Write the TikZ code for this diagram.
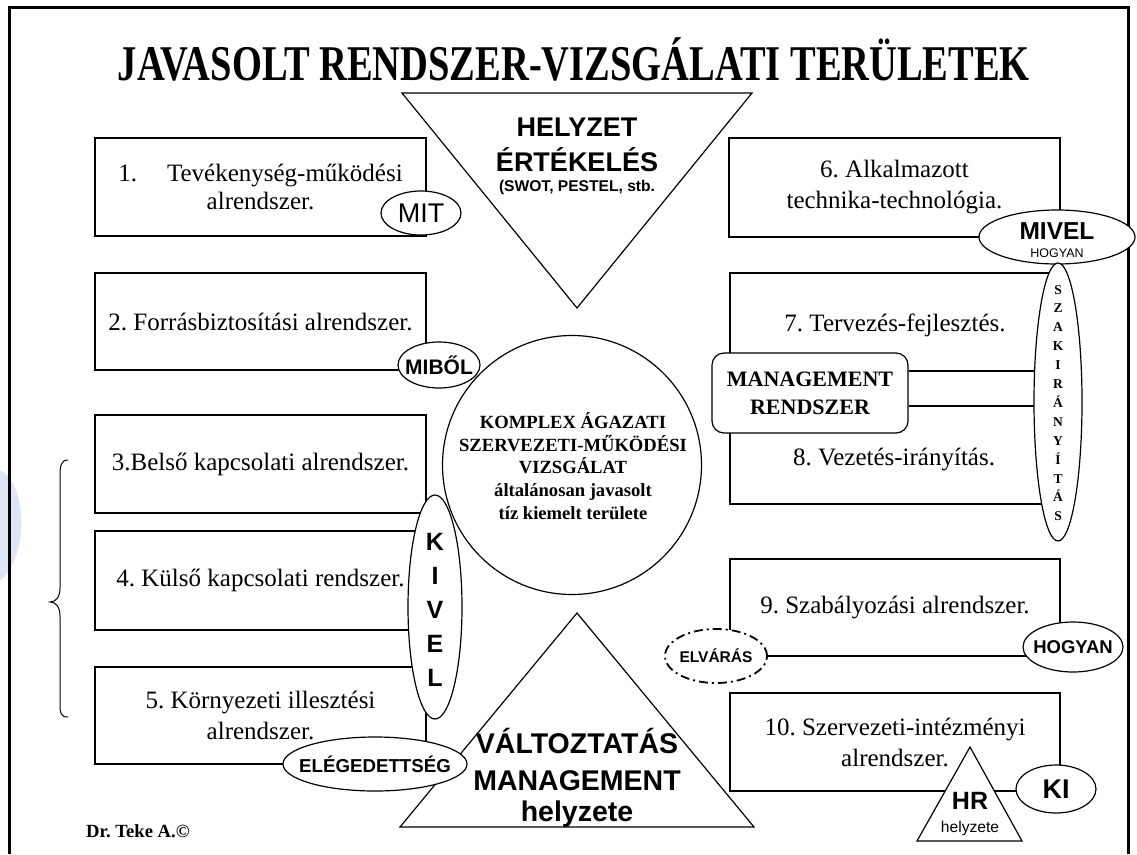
\documentclass[tikz,border=0pt]{standalone}
\usepackage{fontspec}
\usepackage{graphicx}
\setmainfont{Liberation Serif}
\newfontfamily\timesf{Liberation Serif}
\newfontfamily\arial{Liberation Sans}
\usetikzlibrary{shapes.geometric}
\newcommand\fsz[2]{\fontsize{#1}{#2}\selectfont}
\definecolor{wmark}{rgb}{0.87,0.90,0.96}
\frenchspacing
\begin{document}
\begin{tikzpicture}[x=1pt,y=-1pt,
  lw/.style={line width=1.2pt},
  boxn/.style={draw, lw, fill=white, rectangle, inner sep=0pt, align=center, font=\fsz{25}{31}},
  ell/.style={draw, lw, fill=white, ellipse, inner sep=0pt},
  lab/.style={inner sep=0pt, align=center},
  tri/.style={draw, lw, fill=white, line join=miter},
]
\useasboundingbox (0,0) rectangle (1137,854);
% faint watermark
\fill[wmark] (0,470) .. controls (20,480) and (26,520) .. (18,550) .. controls (12,570) and (4,578) .. (0,580) -- cycle;
% frame
\draw[line width=3pt] (9,854) -- (9,7) -- (1128,7) -- (1128,854);
% title
\node[lab, anchor=base] (title) at (574,80) {\resizebox{912pt}{\height}{\timesf\bfseries\fsz{50}{50}JAVASOLT RENDSZER-VIZSGÁLATI TERÜLETEK}};

% left boxes
\node[boxn, minimum width=331pt, minimum height=98pt, font=\fsz{25}{28}] (b1) at (260.5,187) {1.\hspace{1.2em}Tevékenység-működési\\alrendszer.};
\node[boxn, minimum width=331pt, minimum height=97pt] (b2) at (260.5,321.5) {2. Forrásbiztosítási alrendszer.};
\node[boxn, minimum width=331pt, minimum height=98pt] (b3) at (260.5,464) {3.Belső kapcsolati alrendszer.};
\node[boxn, minimum width=331pt, minimum height=99pt] (b4) at (260.5,580.5) {4. Külső kapcsolati rendszer.};
\node[boxn, minimum width=331pt, minimum height=97pt] (b5) at (260.5,715.5) {5. Környezeti illesztési\\alrendszer.};

% right boxes
\node[boxn, minimum width=331pt, minimum height=99pt] (b6) at (894.5,187.5) {6. Alkalmazott\\technika-technológia.};
\node[boxn, minimum width=330pt, minimum height=231pt] (b7) at (895,388.5) {};
\node[lab, font=\fsz{25}{31}] (t7) at (895,325) {7. Tervezés-fejlesztés.};
\node[lab, font=\fsz{25}{31}] (t8) at (894,459) {8. Vezetés-irányítás.};
\node[boxn, minimum width=330pt, minimum height=97pt] (b9) at (895,607.5) {9. Szabályozási alrendszer.};
\node[boxn, minimum width=330pt, minimum height=98pt] (b10) at (895,742) {10. Szervezeti-intézményi\\alrendszer.};

% management box and lines
\node[draw, lw, fill=white, rounded corners=12pt, minimum width=196pt, minimum height=80pt, inner sep=0pt, align=center, font=\bfseries\fsz{22}{28}] (mgmt) at (810,393) {MANAGEMENT\\RENDSZER};
\coordinate (szc) at (1058,402);
\coordinate (l1) at (0,371);
\coordinate (l2) at (0,406);
\draw[lw] (mgmt.east |- l1) -- (szc |- l1);
\draw[lw] (mgmt.east |- l2) -- (szc |- l2);

% top triangle
\draw[tri] (402,93) -- (752,93) -- (577,308) -- cycle;
\node[lab, anchor=base, font=\arial\bfseries\fsz{27}{27}] (helyzet) at (577,136) {HELYZET};
\node[lab, anchor=base, font=\arial\bfseries\fsz{27}{27}] (ertek) at (577,171) {ÉRTÉKELÉS};
\node[lab, anchor=base, font=\arial\bfseries\fsz{15.6}{16}] (swot) at (577,191) {(SWOT, PESTEL, stb.};

% central circle
\node[draw, lw, circle, fill=white, minimum size=259pt, inner sep=0pt] (kor) at (572,465) {};
\node[lab, font=\bfseries\fsz{18.6}{22.75}] (kortext) at (573,466) {KOMPLEX ÁGAZATI\\SZERVEZETI-MŰKÖDÉSI\\VIZSGÁLAT\\általánosan javasolt\\tíz kiemelt területe};

% bottom triangle
\draw[tri] (577,613) -- (754,827) -- (400,827) -- cycle;
\node[lab, anchor=base, font=\arial\bfseries\fsz{28.5}{30}] (valt) at (577,753) {VÁLTOZTATÁS};
\node[lab, anchor=base, font=\arial\bfseries\fsz{28.5}{30}] (mgm2) at (577,790) {MANAGEMENT};
\node[lab, anchor=base, font=\arial\bfseries\fsz{28.5}{30}] (hely) at (577,821) {helyzete};

% ellipses left
\node[ell, minimum width=80pt, minimum height=44pt] (mit) at (421,213) {};
\node[lab, font=\arial\fsz{27}{27}] at (mit) {MIT};
\node[ell, minimum width=82pt, minimum height=46pt] (mibol) at (439,365) {};
\node[lab, font=\arial\bfseries\fsz{21}{21}] at (mibol) {MIBŐL};
\node[ell, minimum width=54pt, minimum height=224pt] (kivel) at (435,607) {};
\node[lab, font=\arial\bfseries\fsz{25}{34}] at (435,610) {K\\I\\V\\E\\L};
\node[ell, minimum width=184pt, minimum height=54pt] (eleg) at (375,764) {};
\node[lab, font=\arial\bfseries\fsz{18.7}{19}] at (eleg) {ELÉGEDETTSÉG};

% ellipses right
\node[ell, minimum width=156pt, minimum height=54pt] (mivel) at (1057,237) {};
\node[lab, anchor=base, font=\arial\bfseries\fsz{24.5}{25}] at (1057,239) {MIVEL};
\node[lab, anchor=base, font=\arial\fsz{12.5}{13}] at (1057,257) {HOGYAN};
\node[ell, minimum width=48pt, minimum height=278pt] (szak) at (szc) {};
\node[lab, font=\bfseries\fsz{13.5}{18.9}] at (1058,403) {S\\Z\\A\\K\\I\\R\\Á\\N\\Y\\Í\\T\\Á\\S};
\node[ell, line width=1.8pt, dash pattern=on 9pt off 4pt on 2pt off 4pt, minimum width=102pt, minimum height=54pt] (elvar) at (716,656) {};
\node[lab, font=\arial\bfseries\fsz{15.5}{16}] at (elvar) {ELVÁRÁS};
\node[ell, minimum width=100pt, minimum height=50pt] (hogyan) at (1073,647) {};
\node[lab, font=\arial\bfseries\fsz{18.5}{19}] at (hogyan) {HOGYAN};
\node[ell, minimum width=80pt, minimum height=48pt] (ki) at (1056,789) {};
\node[lab, font=\arial\bfseries\fsz{27}{27}] at (ki) {KI};

% HR triangle
\draw[tri] (970,747) -- (1022,841) -- (917,841) -- cycle;
\node[lab, anchor=base, font=\arial\bfseries\fsz{25}{25}] (hr) at (970,809) {HR};
\node[lab, anchor=base, font=\arial\fsz{15.6}{16}] (hrh) at (970,832) {helyzete};

% brace
\draw[line width=1pt] (68,460) .. controls (61,460) and (60,466) .. (60,476) -- (60,588) .. controls (60,597) and (56,602) .. (50,602) .. controls (56,602) and (60,607) .. (60,616) -- (60,706) .. controls (60,713) and (61,717) .. (68,717);

% author
\node[lab, anchor=base west, font=\bfseries\fsz{18.6}{19}] (author) at (86,837) {Dr. Teke A.©};
\end{tikzpicture}
\end{document}
